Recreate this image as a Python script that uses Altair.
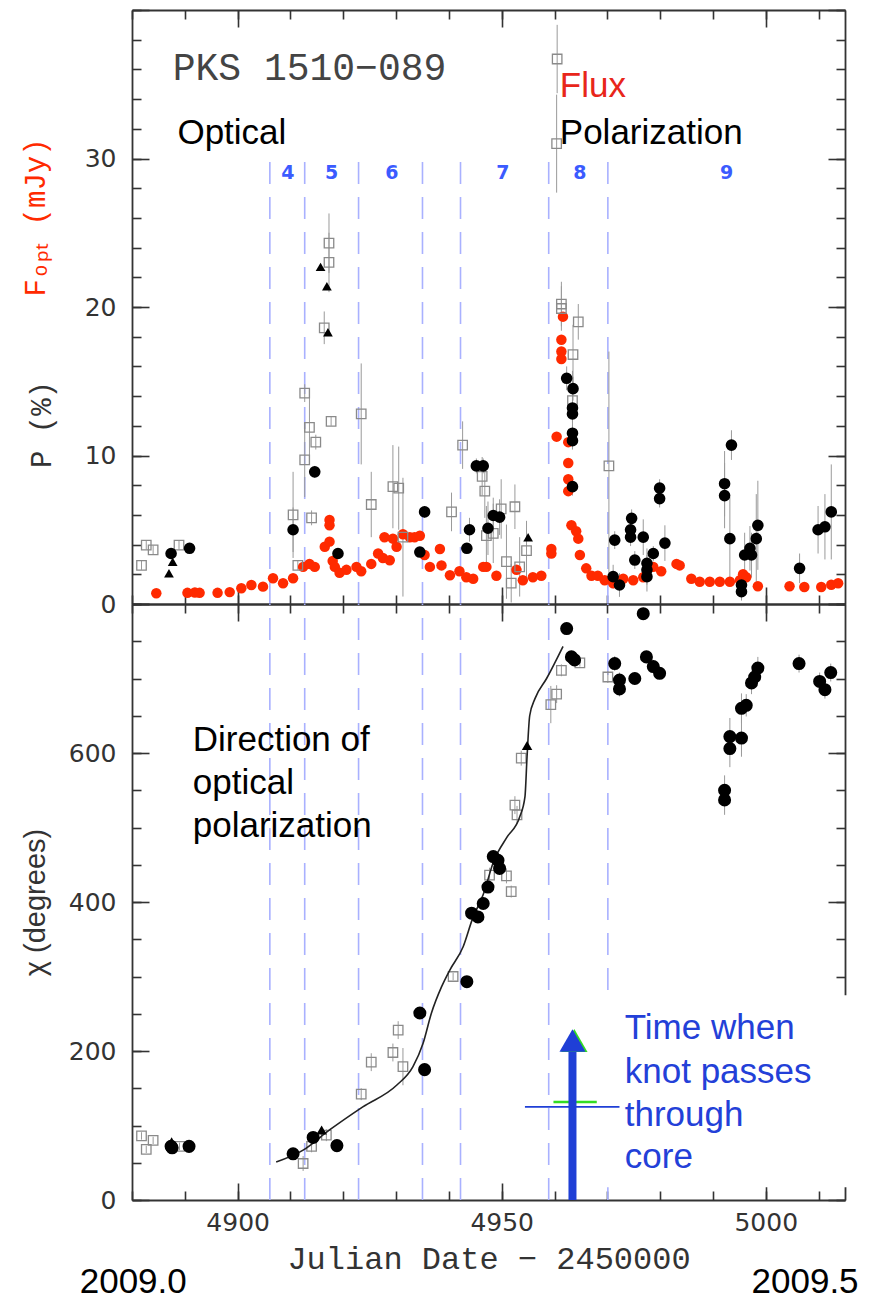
import altair as alt
import pandas as pd

# ---------------- data ----------------
flux_jd = [4884.6, 4890.5, 4891.9, 4892.8, 4896.2, 4898.5, 4900.7, 4902.6, 4904.8, 4906.7,
           4908.6, 4910.5, 4912.4, 4913.6, 4914.6, 4916.5, 4917.4, 4917.4, 4917.4, 4918.0,
           4918.4, 4919.3, 4920.6, 4922.5, 4923.4, 4925.3, 4926.6, 4927.5, 4927.8, 4928.8,
           4929.4, 4930.1, 4931.3, 4932.6, 4933.5, 4934.5, 4935.4, 4936.4, 4938.3, 4938.6,
           4940.2, 4942.0, 4943.3, 4944.6, 4946.5, 4947.1, 4949.0, 4952.8, 4954.0, 4955.9,
           4957.5, 4959.4, 4959.4, 4960.4, 4961.6, 4961.3, 4961.3, 4961.3, 4962.6, 4962.6,
           4962.6, 4962.6, 4963.2, 4964.1, 4964.5, 4964.8, 4966.0, 4967.0, 4968.2, 4969.5,
           4971.1, 4973.0, 4974.9, 4976.8, 4978.7, 4980.2, 4983.1, 4983.7, 4985.9, 4987.5,
           4989.4, 4991.3, 4993.2, 4995.1, 4995.7, 4996.3, 4998.5, 5004.5, 5007.3, 5010.5,
           5012.4, 5013.7]
flux_mjy = [0.72, 0.75, 0.78, 0.75, 0.75, 0.8, 1.06, 1.28, 1.17, 1.73,
            1.4, 1.73, 2.5, 2.7, 2.5, 3.86, 4.2, 5.66, 5.3, 2.9,
            2.5, 2.1, 2.3, 2.5, 2.2, 2.7, 3.4, 3.1, 4.5, 2.95,
            4.4, 3.86, 4.7, 4.5, 4.5, 4.6, 3.3, 2.5, 3.7, 2.6,
            1.94, 2.2, 1.8, 1.7, 2.5, 2.5, 1.9, 2.3, 1.6, 1.8,
            1.9, 3.7, 3.4, 11.27, 19.35, 17.8, 17.0, 16.5, 10.9, 9.5,
            8.4, 7.6, 5.3, 4.9, 4.4, 3.3, 2.4, 1.9, 1.9, 1.6,
            1.4, 1.7, 1.6, 1.8, 2.5, 2.2, 2.7, 2.6, 1.7, 1.5,
            1.5, 1.5, 1.5, 1.6, 2.0, 1.8, 1.2, 1.2, 1.15, 1.15,
            1.3, 1.4]

pcirc_jd = [4887.4, 4890.9, 4910.5, 4914.6, 4919.0, 4935.4, 4934.5, 4943.9, 4943.4, 4945.2,
            4946.5, 4947.4, 4948.4, 4949.6, 4962.3, 4963.5, 4963.4, 4963.4, 4963.4, 4963.4,
            4963.4, 4971.4, 4971.1, 4972.3, 4974.6, 4974.4, 4974.4, 4975.2, 4976.8, 4977.5,
            4977.5, 4977.5, 4978.7, 4979.9, 4979.9, 4980.9, 4992.2, 4992.2, 4993.5, 4993.2,
            4995.4, 4995.4, 4996.0, 4997.3, 4997.0, 4998.2, 4998.5, 5006.4, 5009.9, 5011.2,
            5012.4]
pcirc_p = [3.4, 3.75, 5.0, 8.9, 3.4, 6.2, 3.5, 5.0, 3.75, 9.3,
           9.3, 5.1, 5.96, 5.85, 15.2, 14.5, 13.2, 12.8, 11.5, 11.0,
           7.9, 4.3, 1.84, 1.28, 5.77, 5.0, 4.5, 2.96, 4.5, 2.74,
           2.3, 1.84, 3.4, 7.8, 7.1, 4.1, 8.1, 7.3, 10.7, 4.4,
           1.28, 0.83, 3.3, 3.3, 3.75, 4.4, 5.3, 2.4, 5.0, 5.2,
           6.2]
pcirc_err = [0.3, 0.3, 1.5, 0.4, 0.3, 0.4, 0.3, 0.8, 0.3, 0.5,
             0.5, 1.8, 1.2, 1.2, 0.8, 0.8, 0.6, 0.6, 0.6, 0.6,
             0.6, 0.6, 0.8, 0.8, 0.6, 0.6, 0.6, 0.6, 1.2, 1.0,
             1.0, 1.0, 0.5, 0.6, 0.6, 1.2, 2.2, 2.2, 1.0, 2.8,
             0.6, 0.6, 1.5, 1.5, 1.5, 3.0, 3.0, 1.0, 1.6, 2.2,
             3.2]

psq_jd = [4881.8, 4882.7, 4884.0, 4888.9, 4910.5, 4911.4, 4912.7, 4912.7, 4913.6, 4914.0,
          4914.8, 4916.4, 4917.3, 4917.3, 4917.7, 4923.4, 4925.3, 4929.4, 4930.5, 4931.3,
          4940.5, 4942.6, 4946.3, 4946.8, 4947.1, 4948.4, 4949.9, 4950.9, 4951.8, 4952.5,
          4953.4, 4954.7, 4960.4, 4960.5, 4961.3, 4961.3, 4963.4, 4963.5, 4964.5, 4970.3]
psq_p = [2.6, 3.97, 3.64, 3.97, 6.0, 2.6, 14.2, 9.7, 11.9, 5.8,
         10.9, 18.6, 24.3, 23.0, 12.3, 12.8, 6.7, 7.9, 7.8, 4.5,
         6.2, 10.7, 8.6, 7.6, 4.6, 4.76, 6.4, 2.85, 1.4, 6.55,
         2.5, 3.6, 31.0, 36.7, 20.2, 19.9, 13.7, 16.8, 19.0, 9.3]
psq_err = [0.3, 0.3, 0.3, 0.3, 2.9, 0.3, 0.6, 2.5, 2.5, 0.5,
           0.5, 1.1, 2.0, 2.0, 0.3, 3.4, 2.2, 2.8, 2.8, 4.0,
           1.3, 1.6, 1.3, 1.8, 2.0, 2.0, 2.0, 2.5, 1.3, 1.5,
           2.0, 2.0, 3.3, 2.3, 1.5, 1.5, 2.0, 2.0, 1.2, 7.7]

ptri_jd = [4887.0, 4887.7, 4915.7, 4916.9, 4917.1, 4955.0]
ptri_p = [2.07, 2.85, 22.7, 21.4, 18.3, 4.5]

chic_jd = [4887.4, 4887.6, 4890.8, 4910.5, 4914.3, 4918.8, 4934.5, 4935.4, 4943.4, 4944.3,
           4945.5, 4946.5, 4947.4, 4948.4, 4949.3, 4949.6, 4962.3, 4963.2, 4963.8, 4971.4,
           4972.3, 4972.3, 4975.2, 4976.8, 4977.4, 4978.7, 4979.9, 4992.2, 4992.2, 4993.2,
           4993.2, 4995.4, 4995.4, 4996.3, 4997.3, 4997.9, 4998.5, 5006.3, 5010.2, 5011.2,
           5012.3]
chic_deg = [72, 70, 72, 62, 84, 73, 251, 175, 293, 385,
            380, 398, 420, 461, 456, 445, 767, 729, 725, 720,
            698, 686, 700, 787, 729, 716, 707, 550, 537, 622,
            606, 620, 660, 664, 694, 702, 714, 720, 696, 685,
            708]
chic_err = [4, 4, 4, 8, 8, 6, 6, 6, 6, 6,
            6, 6, 6, 6, 6, 6, 8, 8, 8, 10,
            10, 10, 8, 8, 8, 8, 8, 20, 20, 25,
            25, 25, 20, 15, 15, 15, 15, 12, 12, 12,
            12]

chis_jd = [4881.8, 4882.7, 4884.0, 4889.0, 4912.4, 4914.0, 4916.8, 4923.4, 4925.3, 4929.4,
           4930.4, 4931.3, 4940.8, 4947.7, 4950.9, 4951.8, 4952.5, 4952.9, 4953.7, 4959.3,
           4960.4, 4961.3, 4964.8, 4970.1]
chis_deg = [86, 68, 80, 72, 49, 72, 87, 142, 185, 198,
            228, 179, 300, 436, 435, 414, 530, 517, 593, 665,
            679, 711, 721, 702]
chis_err = [5, 5, 5, 5, 10, 8, 8, 8, 12, 12,
            12, 25, 5, 10, 10, 8, 12, 12, 10, 25,
            12, 8, 5, 8]

chit_jd = [4887.5, 4915.9, 4954.8]
chit_deg = [78, 94, 610]

model_jd = [4907.3, 4912.4, 4917.4, 4923.7, 4930.1, 4933.2, 4935.1, 4936.7, 4938.6, 4940.2,
            4942.7, 4944.5, 4946.5, 4948.5, 4951.0, 4953.4, 4954.4, 4954.8, 4955.3, 4956.3,
            4958.5, 4961.6]
model_deg = [51, 67, 94, 125, 154, 179, 210, 251, 286, 309,
             340, 378, 410, 455, 487, 514, 541, 595, 650, 673,
             700, 743]

period_bounds = [4906.1, 4912.7, 4922.9, 4935.0, 4942.2, 4958.9, 4970.1]
period_names = ["4", "5", "6", "7", "8", "9"]
period_name_jd = [4909.5, 4917.8, 4929.2, 4950.2, 4964.8, 4992.6]

# tick values
x_major = [4900, 4950, 5000]
x_minor = list(range(4880, 5020, 10))
y1_major = [0, 10, 20, 30, 40]
y1_minor = list(range(0, 41, 2))
y1_labels = [0, 10, 20, 30]
y2_major = [0, 200, 400, 600, 800]
y2_minor = list(range(0, 801, 50))
y2_labels = [0, 200, 400, 600]

# annotations
top_notes = ["PKS 1510\u2212089", "Optical", "Flux", "Polarization"]
top_notes_jd = [4887.7, 4888.6, 4961.0, 4961.0]
top_notes_y = [36.0, 31.7, 34.9, 31.7]
dir_lines = ["Direction of", "optical", "polarization"]
dir_jd = [4891.5, 4891.5, 4891.5]
dir_deg = [617, 560, 502]
knot_lines = ["Time when", "knot passes", "through", "core"]
knot_jd = [4973.3, 4973.3, 4973.3, 4973.3]
knot_deg = [231, 172, 114, 58]
year_labels = ["2009.0", "2009.5"]
year_jd = [4870.1, 4997.3]
year_deg = [-110, -110]
arrow_jd = 4963.4
arrow_base, arrow_top, arrow_head = 0, 200, 214
cover_box = [4960.2, 5017.0, 17, 275]
hline_blue = [4954.4, 4972.3, 125]
hline_green = [4959.8, 4968.0, 131.5]

# ---------------- chart ----------------
W, H1, H2 = 713, 594, 596
xs = alt.Scale(domain=[4880, 5015], nice=False, zero=False)
ys1 = alt.Scale(domain=[0, 40], nice=False, zero=False)
ys2 = alt.Scale(domain=[0, 800], nice=False, zero=False)
AXC = "#333333"
RED = "#ff2a00"
BLUE = "#1f3fd6"


def tick_axis(orient, offset, values, size, domain):
    return alt.Axis(orient=orient, offset=offset, values=values, tickSize=size, ticks=True,
                    labels=False, title=None, domain=domain, grid=False, tickColor=AXC,
                    tickWidth=1.6, domainColor=AXC, domainWidth=1.8)


frame_df = pd.DataFrame({"x": [4880, 5015], "y": [0, 0]})


def axis_layer(xaxis, yaxis, yscale):
    return alt.Chart(frame_df).mark_point(opacity=0).encode(
        x=alt.X("x:Q", scale=xs, axis=xaxis),
        y=alt.Y("y:Q", scale=yscale, axis=yaxis))


def frame_layers(H, yscale, ymaj, ymin):
    return [
        axis_layer(tick_axis("bottom", -H, x_major, 17, True), tick_axis("right", -W, ymaj, 17, True), yscale),
        axis_layer(tick_axis("bottom", -H, x_minor, 9, False), tick_axis("right", -W, ymin, 9, False), yscale),
        axis_layer(tick_axis("top", -H, x_major, 17, True), tick_axis("left", -W, ymaj, 17, True), yscale),
        axis_layer(tick_axis("top", -H, x_minor, 9, False), tick_axis("left", -W, ymin, 9, False), yscale),
    ]


def ylab_axis(values, title, tx, ty, font, color, labels=True):
    return alt.Axis(orient="left", values=values, format="d", ticks=False, tickSize=0, domain=False,
                    grid=False, labels=labels, labelFont="DejaVu Sans", labelFontSize=25,
                    labelColor=AXC, labelPadding=16, labelFlush=False, labelOverlap=False,
                    title=title, titleFont=font, titleFontSize=29, titleFontWeight="normal",
                    titleColor=color, titleX=tx, titleY=ty, titleAlign="center",
                    titleBaseline="middle")


def X(field):
    return alt.X(field, type="quantitative", scale=xs, axis=None)


def Y(field, sc):
    return alt.Y(field, type="quantitative", scale=sc, axis=None)


# ---- top panel data frames
flux_df = pd.DataFrame({"jd": flux_jd, "v": flux_mjy})
pc_df = pd.DataFrame({"jd": pcirc_jd, "v": pcirc_p, "e": pcirc_err})
ps_df = pd.DataFrame({"jd": psq_jd, "v": psq_p, "e": psq_err})
pt_df = pd.DataFrame({"jd": ptri_jd, "v": ptri_p})
for d in (pc_df, ps_df):
    d["lo"] = d["v"] - d["e"]
    d["hi"] = d["v"] + d["e"]
bounds_top = pd.DataFrame({"jd": period_bounds, "y0": 0.0, "y1": 30.0})
bounds_bot = pd.DataFrame({"jd": period_bounds, "y0": 0.0, "y1": 800.0})
names_df = pd.DataFrame({"jd": period_name_jd, "t": period_names, "y": 29.0})
tnotes = pd.DataFrame({"jd": top_notes_jd, "y": top_notes_y, "t": top_notes,
                       "kind": ["pks", "blk", "red", "blk"]})

dash_rule = dict(color="#a9b1ff", strokeWidth=1.6, strokeDash=[22, 13])

top_layers = frame_layers(H1, ys1, y1_major, y1_minor) + [
    axis_layer(None, ylab_axis(y1_labels, "P (%)", -91, 414, "Liberation Mono", AXC), ys1),
    axis_layer(None, ylab_axis(y1_labels, "F\u2092\u209a\u209c (mJy)", -97, 207, "Liberation Mono", RED,
                               labels=False), ys1),
    alt.Chart(bounds_top).mark_rule(**dash_rule).encode(x=X("jd"), y=Y("y0", ys1), y2="y1"),
    alt.Chart(names_df).mark_text(font="DejaVu Sans", fontSize=19, fontWeight="bold", color="#3b5bff",
                                  baseline="middle").encode(x=X("jd"), y=Y("y", ys1), text="t"),
    alt.Chart(ps_df).mark_rule(color="#9a9a9a", strokeWidth=1).encode(x=X("jd"), y=Y("lo", ys1), y2="hi"),
    alt.Chart(pc_df).mark_rule(color="#9a9a9a", strokeWidth=1).encode(x=X("jd"), y=Y("lo", ys1), y2="hi"),
    alt.Chart(flux_df).mark_circle(color=RED, size=110, opacity=1).encode(x=X("jd"), y=Y("v", ys1)),
    alt.Chart(ps_df).mark_point(shape="square", filled=False, color="#8a8a8a", strokeWidth=1.3, size=90,
                                opacity=1).encode(x=X("jd"), y=Y("v", ys1)),
    alt.Chart(pc_df).mark_circle(color="black", size=135, opacity=1).encode(x=X("jd"), y=Y("v", ys1)),
    alt.Chart(pt_df).mark_point(shape="triangle-up", filled=True, color="black", size=95,
                                opacity=1).encode(x=X("jd"), y=Y("v", ys1)),
    alt.Chart(tnotes[tnotes.kind == "pks"]).mark_text(font="Liberation Mono", fontSize=38, color="#444444",
                                                      align="left", baseline="middle").encode(
        x=X("jd"), y=Y("y", ys1), text="t"),
    alt.Chart(tnotes[tnotes.kind == "blk"]).mark_text(font="Liberation Sans", fontSize=35, color="black",
                                                      align="left", baseline="middle").encode(
        x=X("jd"), y=Y("y", ys1), text="t"),
    alt.Chart(tnotes[tnotes.kind == "red"]).mark_text(font="Liberation Sans", fontSize=35, color="#e8261a",
                                                      align="left", baseline="middle").encode(
        x=X("jd"), y=Y("y", ys1), text="t"),
]
top = alt.layer(*top_layers).resolve_axis(x="independent", y="independent").properties(width=W, height=H1)

# ---- bottom panel
cc_df = pd.DataFrame({"jd": chic_jd, "v": chic_deg, "e": chic_err})
cs_df = pd.DataFrame({"jd": chis_jd, "v": chis_deg, "e": chis_err})
ct_df = pd.DataFrame({"jd": chit_jd, "v": chit_deg})
for d in (cc_df, cs_df):
    d["lo"] = d["v"] - d["e"]
    d["hi"] = d["v"] + d["e"]
model_df = pd.DataFrame({"jd": model_jd, "v": model_deg})
dir_df = pd.DataFrame({"jd": dir_jd, "y": dir_deg, "t": dir_lines})
knot_df = pd.DataFrame({"jd": knot_jd, "y": knot_deg, "t": knot_lines})
year_df = pd.DataFrame({"jd": year_jd, "y": year_deg, "t": year_labels})
box_df = pd.DataFrame({"x0": [cover_box[0]], "x1": [cover_box[1]], "y0": [cover_box[2]], "y1": [cover_box[3]]})
hb_df = pd.DataFrame({"x0": [hline_blue[0]], "x1": [hline_blue[1]], "y": [hline_blue[2]]})
hg_df = pd.DataFrame({"x0": [hline_green[0]], "x1": [hline_green[1]], "y": [hline_green[2]]})
shaft_df = pd.DataFrame({"jd": [arrow_jd], "y0": [arrow_base], "y1": [arrow_top]})
head_df = pd.DataFrame({"jd": [arrow_jd], "y": [arrow_head]})
headg_df = pd.DataFrame({"jd": [arrow_jd + 0.35], "y": [arrow_head]})

xlab_axis = alt.Axis(orient="bottom", values=x_major, format="d", ticks=False, tickSize=0, domain=False,
                     grid=False, labelFont="DejaVu Sans", labelFontSize=25, labelColor=AXC,
                     labelPadding=10, labelFlush=False, title="Julian Date \u2212 2450000",
                     titleFont="Liberation Mono", titleFontSize=32, titleFontWeight="normal",
                     titleColor=AXC, titlePadding=8)

bot_layers = frame_layers(H2, ys2, y2_major, y2_minor) + [
    axis_layer(xlab_axis, ylab_axis(y2_labels, "\u03c7 (degrees)", -97, 298, "Liberation Sans", AXC), ys2),
    alt.Chart(bounds_bot).mark_rule(**dash_rule).encode(x=X("jd"), y=Y("y0", ys2), y2="y1"),
    alt.Chart(cs_df).mark_rule(color="#9a9a9a", strokeWidth=1).encode(x=X("jd"), y=Y("lo", ys2), y2="hi"),
    alt.Chart(cc_df).mark_rule(color="#9a9a9a", strokeWidth=1).encode(x=X("jd"), y=Y("lo", ys2), y2="hi"),
    alt.Chart(cs_df).mark_point(shape="square", filled=False, color="#8a8a8a", strokeWidth=1.3, size=90,
                                opacity=1).encode(x=X("jd"), y=Y("v", ys2)),
    alt.Chart(model_df).mark_line(color="#222222", strokeWidth=1.6, interpolate="monotone").encode(
        x=X("jd"), y=Y("v", ys2)),
    alt.Chart(cc_df).mark_circle(color="black", size=170, opacity=1).encode(x=X("jd"), y=Y("v", ys2)),
    alt.Chart(ct_df).mark_point(shape="triangle-up", filled=True, color="black", size=110,
                                opacity=1).encode(x=X("jd"), y=Y("v", ys2)),
    alt.Chart(box_df).mark_rect(color="white", opacity=1).encode(x=X("x0"), x2="x1", y=Y("y0", ys2), y2="y1"),
    alt.Chart(hb_df).mark_rule(color=BLUE, strokeWidth=1.8).encode(x=X("x0"), x2="x1", y=Y("y", ys2)),
    alt.Chart(hg_df).mark_rule(color="#33dd22", strokeWidth=2.5).encode(x=X("x0"), x2="x1", y=Y("y", ys2)),
    alt.Chart(shaft_df).mark_rule(color=BLUE, strokeWidth=8).encode(x=X("jd"), y=Y("y0", ys2), y2="y1"),
    alt.Chart(headg_df).mark_point(shape="triangle-up", filled=True, color="#33dd22", size=700,
                                   opacity=1).encode(x=X("jd"), y=Y("y", ys2)),
    alt.Chart(head_df).mark_point(shape="triangle-up", filled=True, color=BLUE, size=676,
                                  opacity=1).encode(x=X("jd"), y=Y("y", ys2)),
    alt.Chart(dir_df).mark_text(font="Liberation Sans", fontSize=35, color="black", align="left",
                                baseline="middle").encode(x=X("jd"), y=Y("y", ys2), text="t"),
    alt.Chart(knot_df).mark_text(font="Liberation Sans", fontSize=35, color="#2340d8", align="left",
                                 baseline="middle").encode(x=X("jd"), y=Y("y", ys2), text="t"),
    alt.Chart(year_df).mark_text(font="Liberation Sans", fontSize=35, color="black", align="left",
                                 baseline="middle").encode(x=X("jd"), y=Y("y", ys2), text="t"),
]
bottom = alt.layer(*bot_layers).resolve_axis(x="independent", y="independent").properties(width=W, height=H2)

chart = alt.vconcat(top, bottom, spacing=0, bounds="flush").properties(
    padding={"left": 13, "top": 1, "right": 0, "bottom": 0}
).configure_view(stroke=None)

chart.save("out.html", embed_options={"renderer": "svg", "actions": False})
